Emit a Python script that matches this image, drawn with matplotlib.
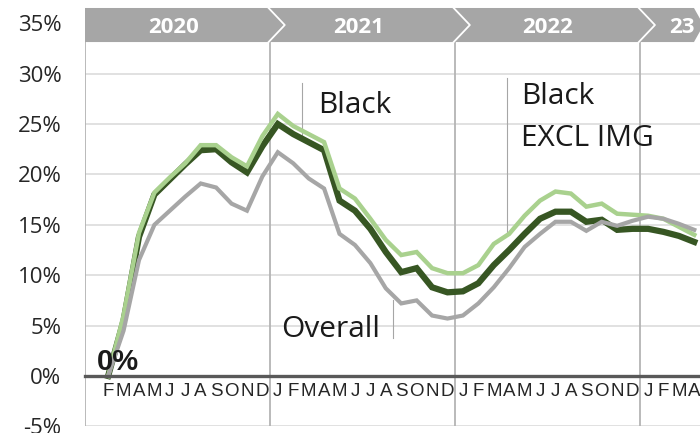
import numpy as np
import matplotlib.pyplot as plt
from matplotlib.patches import Polygon

# meses jan/2020 .. abr/2023 (jan/2020 sem rótulo)
meses = [''] + list('FMAMJJASOND') + list('JFMAMJJASOND') * 2 + list('JFMA')
anos = ['2020', '2021', '2022', '23']
anos_x = [5.27, 17.27, 29.5, 38.2]

# valores em %, começando em fev/2020
black = [0, 5.5, 13.8, 18.0, 19.5, 21.0, 22.4, 22.5, 21.2, 20.2, 22.8,
         25.0, 24.0, 23.2, 22.4, 17.4, 16.4, 14.6, 12.3, 10.3, 10.7, 8.8, 8.3,
         8.4, 9.2, 11.0, 12.5, 14.1, 15.6, 16.3, 16.3, 15.3, 15.5, 14.5, 14.6,
         14.6, 14.3, 13.9, 13.3]
black_excl = [0, 6.0, 14.2, 18.2, 19.7, 21.1, 22.9, 22.9, 21.7, 20.8, 23.8,
              26.0, 24.8, 24.0, 23.2, 18.6, 17.6, 15.6, 13.5, 12.0, 12.3, 10.7, 10.2,
              10.2, 11.0, 13.1, 14.1, 15.9, 17.4, 18.3, 18.1, 16.8, 17.1, 16.1, 16.0,
              15.9, 15.6, 14.8, 14.0]
overall = [0, 4.5, 11.5, 15.0, 16.4, 17.8, 19.1, 18.7, 17.1, 16.4, 19.8,
           22.2, 21.1, 19.6, 18.6, 14.1, 13.0, 11.2, 8.7, 7.2, 7.5, 6.0, 5.7,
           6.0, 7.2, 8.8, 10.7, 12.8, 14.1, 15.3, 15.3, 14.4, 15.3, 14.9, 15.4,
           15.8, 15.6, 15.1, 14.5]

x = np.arange(1, len(meses))

fig = plt.figure(figsize=(7, 4.33), dpi=100)
ax = fig.add_axes([85 / 700, 6.6 / 433, 617 / 700, 403.2 / 433])

ax.set_xlim(-0.5, len(meses) - 0.5)
ax.set_ylim(-5, 35)

# grade
for v in range(-5, 36, 5):
    ax.axhline(v, color='#d9d9d9', lw=1.1, zorder=0)
for b in [-0.5, 11.5, 23.5, 35.5]:
    ax.axvline(b, color='#b4b4b4', lw=1.3, zorder=1)

ax.plot(x, black, color='#375623', lw=4.5, solid_joinstyle='miter', zorder=3)
ax.plot(x, black_excl, color='#a9d18e', lw=3.2, solid_joinstyle='miter', zorder=4)
ax.plot(x, overall, color='#a6a6a6', lw=3.0, solid_joinstyle='miter', zorder=5)

for s in ['left', 'right', 'top']:
    ax.spines[s].set_visible(False)
ax.spines['bottom'].set_position(('data', 0))
ax.spines['bottom'].set_color('#595959')
ax.spines['bottom'].set_linewidth(2.4)
ax.spines['bottom'].set_zorder(6)

ax.set_xticks(range(len(meses)))
ax.set_xticklabels(meses, family=['Liberation Sans Narrow', 'Liberation Sans'],
                   fontsize=13.5, color='#262626')
ax.tick_params(axis='x', length=0, pad=5)
ax.set_yticks(range(-5, 36, 5))
ax.set_yticklabels([f'{v}%' for v in range(-5, 36, 5)], family='Open Sans',
                   fontsize=16, color='#262626')
ax.tick_params(axis='y', length=0, pad=17)

# faixa dos anos
topo, meio, base = 36.51, 34.82, 33.13
faixa = Polygon([(-0.5, topo), (38.98, topo), (39.6, meio), (38.98, base), (-0.5, base)],
                closed=True, facecolor='#a6a6a6', edgecolor='none', clip_on=False, zorder=7)
ax.add_patch(faixa)
for b in [11.5, 23.5, 35.5]:
    ax.plot([b - 0.1, b + 0.95, b - 0.1], [topo, meio, base], color='white', lw=1.3,
            clip_on=False, zorder=8)
for ano, xa in zip(anos, anos_x):
    ax.text(xa, meio, ano, ha='center', va='center_baseline', color='white',
            fontsize=16, fontweight='bold', family='Open Sans', zorder=9)

# rótulos das séries
ax.plot([13.57, 13.57], [29.1, 23.9], color='#a6a6a6', lw=0.8, zorder=2)
ax.text(14.61, 26.1, 'Black', fontsize=21.5, family='Open Sans', color='#1a1a1a')
ax.plot([26.87, 26.87], [29.6, 14.0], color='#a6a6a6', lw=0.8, zorder=2)
ax.text(27.77, 27.0, 'Black', fontsize=21.5, family='Open Sans', color='#1a1a1a')
ax.text(27.77, 22.8, 'EXCL IMG', fontsize=21.5, family='Open Sans', color='#1a1a1a')
ax.plot([19.47, 19.47], [7.5, 3.8], color='#a6a6a6', lw=0.8, zorder=2)
ax.text(12.2, 3.87, 'Overall', fontsize=21.5, family='Open Sans', color='#1a1a1a')
ax.text(0.28, 0.6, '0%', fontsize=21, fontweight='bold', family='Liberation Sans',
        color='#1a1a1a', zorder=6)

fig.savefig('out.png', dpi=100)
